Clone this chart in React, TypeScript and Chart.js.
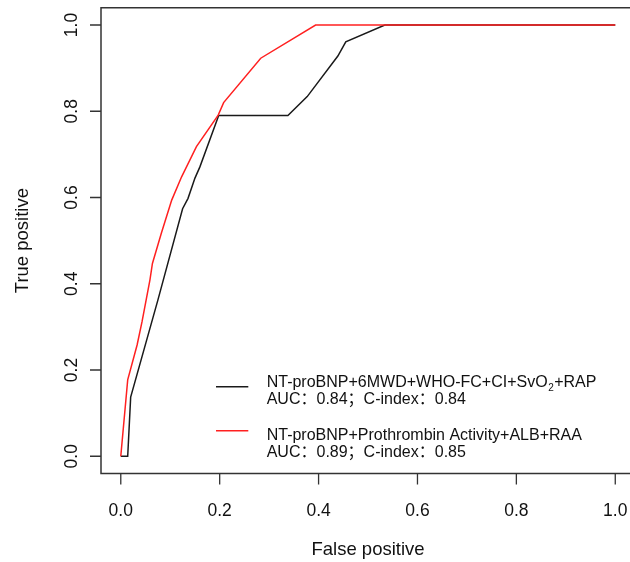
import React, { useEffect, useRef } from "react";
import { Chart, registerables } from "chart.js";

Chart.register(...registerables);

// Model 1 (black)
const blackFpr = [0, 0.014, 0.02, 0.075, 0.125, 0.136, 0.15, 0.16, 0.198, 0.338, 0.377, 0.439, 0.455, 0.534, 1];
const blackTpr = [0, 0, 0.137, 0.362, 0.574, 0.598, 0.645, 0.671, 0.79, 0.79, 0.834, 0.928, 0.961, 1, 1];
// Model 2 (red)
const redFpr = [0, 0.014, 0.033, 0.043, 0.059, 0.064, 0.082, 0.103, 0.123, 0.153, 0.197, 0.208, 0.283, 0.394, 1];
const redTpr = [0, 0.177, 0.258, 0.312, 0.409, 0.447, 0.517, 0.594, 0.648, 0.718, 0.791, 0.82, 0.923, 1, 1];

const tickValues = [0, 0.2, 0.4, 0.6, 0.8, 1.0];
const tickLabels = ["0.0", "0.2", "0.4", "0.6", "0.8", "1.0"];
const xTitle = "False positive";
const yTitle = "True positive";
const legend1a = "NT-proBNP+6MWD+WHO-FC+CI+SvO";
const legend1sub = "2";
const legend1b = "+RAP";
const legend1line2 = "AUC：0.84；C-index：0.84";
const legend2line1 = "NT-proBNP+Prothrombin Activity+ALB+RAA";
const legend2line2 = "AUC：0.89；C-index：0.85";

const FONT = '"Liberation Sans", Arial, "Noto Sans CJK SC", sans-serif';
const BLACK = "#1a1a1a";
const RED = "#ff2020";

const toPts = (xs: number[], ys: number[]) => xs.map((x, i) => ({ x, y: ys[i] }));

const decorPlugin = {
  id: "rdecor",
  afterDraw(chart: any) {
    const ctx = chart.ctx as CanvasRenderingContext2D;
    const xs = chart.scales.x;
    const ys = chart.scales.y;
    const left = xs.getPixelForValue(-0.04);
    const right = xs.getPixelForValue(1.04);
    const top = ys.getPixelForValue(1.04);
    const bottom = ys.getPixelForValue(-0.04);
    ctx.save();
    // box
    ctx.strokeStyle = "#333";
    ctx.lineWidth = 1.5;
    ctx.strokeRect(left, top, right - left, bottom - top);
    // ticks
    ctx.lineWidth = 1.3;
    ctx.beginPath();
    tickValues.forEach((v) => {
      const px = xs.getPixelForValue(v);
      ctx.moveTo(px, bottom);
      ctx.lineTo(px, bottom + 11);
      const py = ys.getPixelForValue(v);
      ctx.moveTo(left, py);
      ctx.lineTo(left - 11, py);
    });
    ctx.stroke();
    // tick labels
    ctx.fillStyle = "#111";
    ctx.font = `17.5px ${FONT}`;
    ctx.textAlign = "center";
    ctx.textBaseline = "middle";
    tickValues.forEach((v, i) => {
      const px = xs.getPixelForValue(v);
      ctx.fillText(tickLabels[i], px, 511);
      const py = ys.getPixelForValue(v);
      ctx.save();
      ctx.translate(72.5, py);
      ctx.rotate(-Math.PI / 2);
      ctx.fillText(tickLabels[i], 0, 0);
      ctx.restore();
    });
    // titles
    ctx.font = `18.5px ${FONT}`;
    ctx.fillText(xTitle, (left + right) / 2, 550);
    ctx.save();
    ctx.translate(23, (top + bottom) / 2);
    ctx.rotate(-Math.PI / 2);
    ctx.fillText(yTitle, 0, 0);
    ctx.restore();
    // legend
    ctx.lineWidth = 1.5;
    ctx.strokeStyle = BLACK;
    ctx.beginPath();
    ctx.moveTo(216, 386.7);
    ctx.lineTo(248.3, 386.7);
    ctx.stroke();
    ctx.strokeStyle = RED;
    ctx.beginPath();
    ctx.moveTo(216, 430.7);
    ctx.lineTo(248.3, 430.7);
    ctx.stroke();
    ctx.textAlign = "left";
    ctx.textBaseline = "alphabetic";
    ctx.fillStyle = "#111";
    const lf = `16px ${FONT}`;
    ctx.font = lf;
    const tx = 266.7;
    ctx.fillText(legend1a, tx, 386.7);
    const w = ctx.measureText(legend1a).width;
    ctx.font = `10px ${FONT}`;
    ctx.fillText(legend1sub, tx + w + 0.5, 390.5);
    const ws = ctx.measureText(legend1sub).width;
    ctx.font = lf;
    ctx.fillText(legend1b, tx + w + ws + 1, 386.7);
    ctx.fillText(legend1line2, tx, 404);
    ctx.fillText(legend2line1, tx, 440);
    ctx.fillText(legend2line2, tx, 456.7);
    ctx.restore();
  },
};

export default function App() {
  const ref = useRef<HTMLCanvasElement | null>(null);
  useEffect(() => {
    if (!ref.current) return;
    const chart = new Chart(ref.current, {
      type: "scatter",
      data: {
        datasets: [
          {
            label: "red",
            data: toPts(redFpr, redTpr),
            showLine: true,
            borderColor: RED,
            borderWidth: 1.5,
            pointRadius: 0,
            tension: 0,
            order: 0,
          },
          {
            label: "black",
            data: toPts(blackFpr, blackTpr),
            showLine: true,
            borderColor: BLACK,
            borderWidth: 1.5,
            pointRadius: 0,
            tension: 0,
            order: 1,
          },
        ],
      },
      options: {
        responsive: false,
        animation: false,
        devicePixelRatio: 1,
        layout: { padding: { left: 101, top: 7.75, right: 0, bottom: 88.5 } },
        plugins: { legend: { display: false }, tooltip: { enabled: false } },
        scales: {
          x: { type: "linear", display: false, min: -0.04, max: 1.0298 },
          y: { type: "linear", display: false, min: -0.04, max: 1.04 },
        },
      },
      plugins: [decorPlugin],
    });
    return () => chart.destroy();
  }, []);
  return (
    <div style={{ position: "absolute", left: 0, top: 0, width: 630, height: 562, background: "#fff" }}>
      <canvas ref={ref} width={630} height={562} style={{ display: "block" }} />
    </div>
  );
}
